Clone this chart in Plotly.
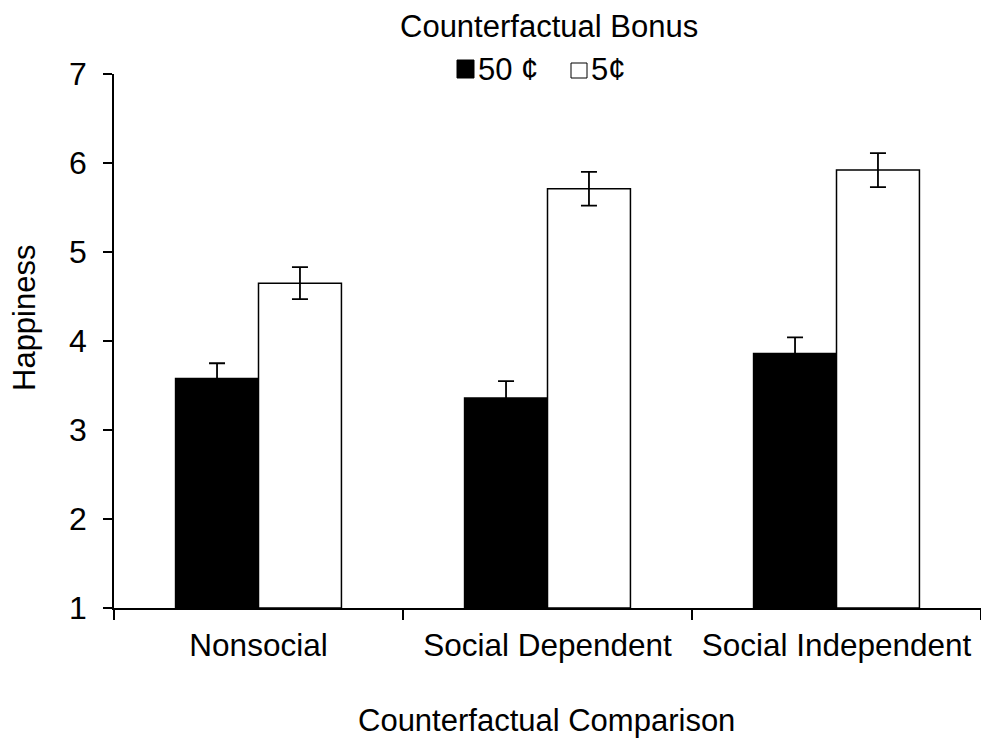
import plotly.graph_objects as go

# Study data: mean happiness ratings with standard errors
categories = ["Nonsocial", "Social Dependent", "Social Independent"]
bonus_labels = ["50 ¢", "5¢"]
happiness_50c = [3.58, 3.36, 3.86]
se_50c = [0.17, 0.19, 0.18]
happiness_5c = [4.65, 5.71, 5.92]
se_5c = [0.18, 0.19, 0.19]
y_ticks = [1, 2, 3, 4, 5, 6, 7]

FONT = "Liberation Sans, Arial, sans-serif"
W, H = 981, 743
ML, MR, MT, MB = 114, 0, 74, 135
PW, PH = W - ML - MR, H - MT - MB


def px_x(x):
    return (x - ML) / PW


def px_y(y):
    return (H - MB - y) / PH


err_style = dict(type="data", visible=True, color="black", thickness=1.8, width=8)

fig = go.Figure()
fig.add_trace(go.Bar(
    x=categories, y=[v - 1 for v in happiness_50c], base=1, name=bonus_labels[0],
    marker=dict(color="black", line=dict(color="black", width=1.5)),
    error_y=dict(array=se_50c, **err_style), showlegend=False,
))
fig.add_trace(go.Bar(
    x=categories, y=[v - 1 for v in happiness_5c], base=1, name=bonus_labels[1],
    marker=dict(color="white", line=dict(color="black", width=1.5)),
    error_y=dict(array=se_5c, **err_style), showlegend=False,
))

# Legend drawn as swatches and labels above the plot
shapes = [
    dict(type="rect", xref="paper", yref="paper",
         x0=px_x(457), x1=px_x(474), y0=px_y(78), y1=px_y(60),
         fillcolor="black", line=dict(color="black", width=1)),
    dict(type="rect", xref="paper", yref="paper",
         x0=px_x(571), x1=px_x(587), y0=px_y(78), y1=px_y(63),
         fillcolor="white", line=dict(color="black", width=1)),
]
annotations = [
    dict(text="Counterfactual Bonus", xref="paper", yref="paper",
         x=px_x(549), y=px_y(27), xanchor="center", yanchor="middle",
         showarrow=False, font=dict(family=FONT, size=31, color="black")),
    dict(text=bonus_labels[0], xref="paper", yref="paper",
         x=px_x(476), y=px_y(69), xanchor="left", yanchor="middle",
         showarrow=False, font=dict(family=FONT, size=31, color="black")),
    dict(text=bonus_labels[1], xref="paper", yref="paper",
         x=px_x(589), y=px_y(69), xanchor="left", yanchor="middle",
         showarrow=False, font=dict(family=FONT, size=31, color="black")),
    dict(text="Happiness", xref="paper", yref="paper",
         x=px_x(24), y=px_y(318), xanchor="center", yanchor="middle",
         textangle=-90, showarrow=False,
         font=dict(family=FONT, size=31, color="black")),
    dict(text="Counterfactual Comparison", xref="paper", yref="paper",
         x=px_x(546), y=px_y(720), xanchor="center", yanchor="middle",
         showarrow=False, font=dict(family=FONT, size=31, color="black")),
]

fig.update_layout(
    width=W, height=H,
    margin=dict(l=ML, r=MR, t=MT, b=MB, pad=0),
    paper_bgcolor="white", plot_bgcolor="white",
    barmode="group", bargap=0.426, bargroupgap=0,
    font=dict(family=FONT, size=27, color="black"),
    shapes=shapes, annotations=annotations,
    showlegend=False,
)
fig.update_xaxes(
    type="category", showline=True, linecolor="black", linewidth=1.5,
    ticks="outside", tickson="boundaries", ticklen=10, tickwidth=1.5,
    tickcolor="black", showgrid=False, zeroline=False,
    tickfont=dict(family=FONT, size=31.5, color="black"),
    ticklabelstandoff=8,
)
fig.update_yaxes(
    range=[1, 7], tickvals=y_ticks, showline=True, linecolor="black",
    linewidth=1.5, ticks="outside", ticklen=9, tickwidth=1.5,
    tickcolor="black", showgrid=False, zeroline=False,
    tickfont=dict(family=FONT, size=32, color="black"),
    ticklabelstandoff=10,
)

fig.write_html("out.html")
